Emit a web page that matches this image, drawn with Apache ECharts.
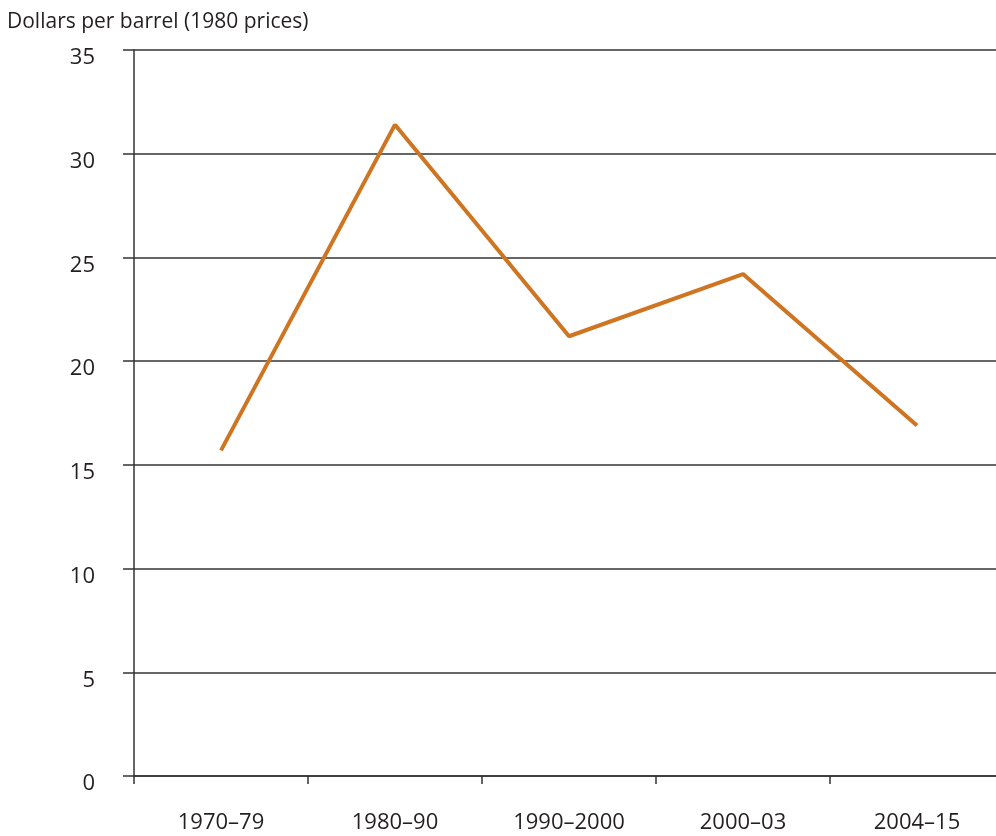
<!DOCTYPE html>
<html>
<head>
<meta charset="utf-8">
<script src="https://cdn.jsdelivr.net/npm/echarts@6/dist/echarts.min.js"></script>
<style>
  html, body { margin: 0; padding: 0; background: #fff; }
  #main { width: 996px; height: 836px; }
</style>
</head>
<body>
<div id="main"></div>
<script>
var periods = ['1970–79', '1980–90', '1990–2000', '2000–03', '2004–15'];
var prices = [15.7, 31.4, 21.2, 24.2, 16.9];
var yTicks = { min: 0, max: 35, interval: 5 };

var chart = echarts.init(document.getElementById('main'), null, { renderer: 'canvas' });
var ink = '#231f20';
var font = '"Open Sans", "Noto Sans", sans-serif';

var option = {
  animation: false,
  title: {
    text: 'Dollars per barrel (1980 prices)',
    left: 2,
    top: 7,
    textStyle: { fontFamily: font, fontSize: 21, fontWeight: 'normal', color: ink }
  },
  // grid runs a little past the right edge, as in the original
  grid: { left: 134, right: -8, top: 50, bottom: 60, outerBoundsMode: 'none', containLabel: false },
  xAxis: {
    type: 'category',
    data: periods,
    boundaryGap: true,
    axisLine: { show: true, lineStyle: { color: '#333', width: 1.5 } },
    axisTick: { show: true, length: 8, lineStyle: { color: '#333', width: 1.5 } },
    axisLabel: { fontFamily: font, fontSize: 22, color: ink, margin: 36 }
  },
  yAxis: {
    type: 'value',
    min: yTicks.min,
    max: yTicks.max,
    interval: yTicks.interval,
    axisLine: { show: true, lineStyle: { color: '#333', width: 1.5 } },
    axisTick: { show: true, length: 11, lineStyle: { color: '#333', width: 1.5 } },
    // labels sit just below their gridline
    axisLabel: { fontFamily: font, fontSize: 22, color: ink, margin: 39, verticalAlign: 'top', lineHeight: 16 },
    splitLine: { show: true, lineStyle: { color: '#333', width: 1.5 } }
  },
  series: [{
    type: 'line',
    data: prices,
    symbol: 'none',
    lineStyle: { color: '#cf7420', width: 4 }
  }]
};

chart.setOption(option);
</script>
</body>
</html>
